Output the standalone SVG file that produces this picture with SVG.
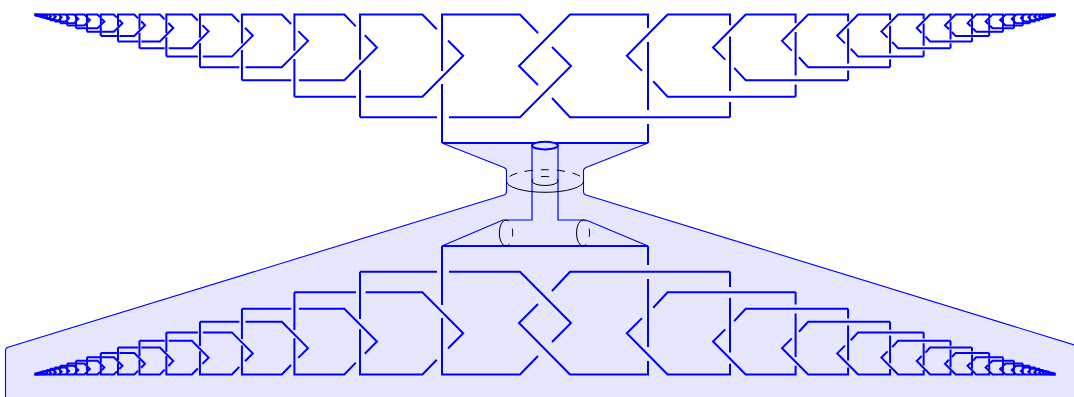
<svg xmlns="http://www.w3.org/2000/svg" width="1074" height="397" viewBox="0 0 1074 397">
<style>
.k{fill:none;stroke:#00f;stroke-width:2;vector-effect:non-scaling-stroke}
.t{fill:none;stroke:#00f;stroke-width:1.2}
.b{fill:none;stroke:#000;stroke-width:1}
.d{stroke-dasharray:8 8}
</style>
<defs>
<path id="l" class="k" d="M410,128.5V69.5M410,56.5V0H488L506,18.5M520,32.5L539,51.5L488,102.8H417M405,102.8H328"/>
<path id="r" class="k" d="M410,128.5V109.5M410,95.5V27.5M410,13.5V0H488L539,51.5L520,70.5M506,83.5L488,102.8H328"/>
<g id="L">
<use href="#l"/><use href="#l" transform="scale(.8)"/><use href="#l" transform="scale(.64)"/><use href="#l" transform="scale(.512)"/><use href="#l" transform="scale(.4096)"/><use href="#l" transform="scale(.32768)"/><use href="#l" transform="scale(.262144)"/><use href="#l" transform="scale(.209715)"/><use href="#l" transform="scale(.167772)"/><use href="#l" transform="scale(.134218)"/><use href="#l" transform="scale(.107374)"/><use href="#l" transform="scale(.085899)"/><use href="#l" transform="scale(.068719)"/><use href="#l" transform="scale(.054976)"/><use href="#l" transform="scale(.04398)"/><use href="#l" transform="scale(.035184)"/><use href="#l" transform="scale(.028147)"/><use href="#l" transform="scale(.022518)"/><use href="#l" transform="scale(.018014)"/><use href="#l" transform="scale(.014412)"/><use href="#l" transform="scale(.011529)"/><use href="#l" transform="scale(.009223)"/><use href="#l" transform="scale(.007379)"/>
</g>
<g id="R">
<use href="#r"/><use href="#r" transform="scale(.8)"/><use href="#r" transform="scale(.64)"/><use href="#r" transform="scale(.512)"/><use href="#r" transform="scale(.4096)"/><use href="#r" transform="scale(.32768)"/><use href="#r" transform="scale(.262144)"/><use href="#r" transform="scale(.209715)"/><use href="#r" transform="scale(.167772)"/><use href="#r" transform="scale(.134218)"/><use href="#r" transform="scale(.107374)"/><use href="#r" transform="scale(.085899)"/><use href="#r" transform="scale(.068719)"/><use href="#r" transform="scale(.054976)"/><use href="#r" transform="scale(.04398)"/><use href="#r" transform="scale(.035184)"/><use href="#r" transform="scale(.028147)"/><use href="#r" transform="scale(.022518)"/><use href="#r" transform="scale(.018014)"/><use href="#r" transform="scale(.014412)"/><use href="#r" transform="scale(.011529)"/><use href="#r" transform="scale(.009223)"/><use href="#r" transform="scale(.007379)"/>
</g>
</defs>
<rect width="1074" height="397" fill="#fff"/>
<path id="surface" d="M442,143L504,167.4Q506.5,168.4 506.5,171V191.5Q506.5,194.3 504,195L8,347.3Q5.5,348 5.5,351V400H1084.5V351Q1084.5,348 1082,347.3L586,195Q583.5,194.3 583.5,191.5V171Q583.5,168.4 586,167.4L648,143Z" fill="#e6e6ff" stroke="#00f" stroke-width="1.1"/>
<g id="tubes">
<path class="t" d="M532,146V220H503L442,246M558,146V220H586L648,246"/>
<path class="k" d="M442,143H648M442,246H648"/>
<ellipse cx="545" cy="145.6" rx="13" ry="3.8" fill="#e6e6ff" stroke="#00f" stroke-width="2"/>
</g>
<g id="rings">
<path class="b" d="M506.3,181A38.7,11.3 0 0 0 583.7,181M532,181A13,4.5 0 0 0 558,181M506,220A6.7,13 0 0 0 506,246M583,220A6.5,13 0 0 0 583,246"/>
<path class="b d" stroke-dashoffset="10" d="M506.3,181A38.7,11.3 0 0 1 583.7,181"/>
<path class="b d" stroke-dashoffset="5.5" d="M532,181A13,4.5 0 0 1 558,181"/>
<path class="b d" stroke-dashoffset="4.75" d="M506,220A6.7,13 0 0 1 506,246M583,220A6.5,13 0 0 1 583,246"/>
</g>
<g id="braids">
<use href="#L" transform="translate(32 14.5)"/>
<use href="#R" transform="translate(1058 14.5) scale(-1 1)"/>
<use href="#L" transform="translate(32 374.5) scale(1 -1)"/>
<use href="#R" transform="translate(1058 374.5) scale(-1 -1)"/>
</g>
</svg>
